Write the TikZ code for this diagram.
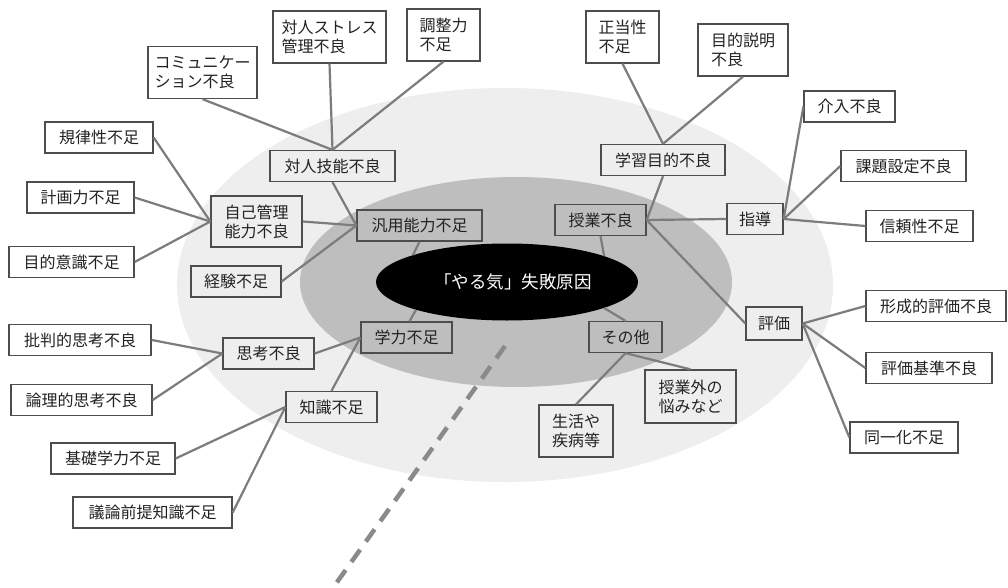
\documentclass[tikz,border=0pt]{standalone}
\usepackage{fontspec}
\setmainfont{Noto Sans CJK JP}
\usetikzlibrary{shapes.geometric}
\definecolor{boxc}{HTML}{4D4D4D}
\definecolor{linec}{HTML}{7C7C7C}
\definecolor{outerc}{HTML}{EEEEEE}
\definecolor{midc}{HTML}{BEBEBE}
\definecolor{txtc}{HTML}{222222}
\definecolor{dashc}{HTML}{8A8A8A}
\begin{document}
\begin{tikzpicture}[x=1pt,y=-1pt,
  box/.style={draw=boxc, line width=1.3pt, align=left, inner sep=2pt,
    text=txtc, font=\fontsize{16}{19}\selectfont, minimum height=31pt},
  tall/.style={box, minimum height=52pt},
  conn/.style={draw=linec, line width=2.2pt},
  dashline/.style={draw=dashc, line width=4.5pt, dash pattern=on 15pt off 10pt}]
\useasboundingbox (0,0) rectangle (1008,588);
\fill[white] (0,0) rectangle (1008,588);
% zones
\fill[outerc] (505,285) ellipse [x radius=328, y radius=197];
\fill[midc] (516,282) ellipse [x radius=216, y radius=105];
% core
\node[ellipse, fill=black, minimum width=262pt, minimum height=77pt, inner sep=0pt,
  text=white, font=\fontsize{17.5}{20}\selectfont] (core) at (507,282) {\hspace*{12pt}「やる気」失敗原因};
% boxes
\node[tall, minimum width=109pt] (komyu) at (202.5,72.5) {コミュニケー\\ション不良};
\node[tall, minimum width=113pt] (stress) at (329.5,37) {対人ストレス\\管理不良};
\node[tall, minimum width=73pt] (chousei) at (443.5,35) {調整力\\不足};
\node[box, minimum width=108pt] (kiritsu) at (99,137.5) {規律性不足};
\node[box, minimum width=125pt] (taijin) at (332.5,166) {対人技能不良};
\node[box, minimum width=107pt] (keikaku) at (80.5,197.5) {計画力不足};
\node[tall, minimum width=91pt, minimum height=51pt] (jiko) at (256.5,221.5) {自己管理\\能力不良};
\node[box, minimum width=125pt] (hanyou) at (419.5,225.5) {汎用能力不足};
\node[box, minimum width=125pt] (mokuteki) at (71.5,262) {目的意識不足};
\node[box, minimum width=90pt] (keiken) at (236,281.5) {経験不足};
\node[tall, minimum width=73pt] (seitou) at (622.5,37) {正当性\\不足};
\node[tall, minimum width=90pt] (setsumei) at (743,50) {目的説明\\不良};
\node[box, minimum width=124pt] (gakushu) at (663,160) {学習目的不良};
\node[box, minimum width=91pt] (kainyuu) at (849.5,106.5) {介入不良};
\node[box, minimum width=125pt] (kadai) at (903.5,166) {課題設定不良};
\node[box, minimum width=91pt] (jugyou) at (600.5,220) {授業不良};
\node[box, minimum width=56pt] (shidou) at (755,219) {指導};
\node[box, minimum width=107pt] (shinrai) at (919.5,226) {信頼性不足};
\node[box, minimum width=56pt, minimum height=33pt] (hyouka) at (774,323.5) {評価};
\node[box, minimum width=140pt] (keisei) at (936,306) {形成的評価不良};
\node[box, minimum width=126pt] (kijun) at (929,368) {評価基準不良};
\node[box, minimum width=108pt] (douitsu) at (904,437.5) {同一化不足};
\node[box, minimum width=73pt] (sonota) at (625.5,337) {その他};
\node[tall, minimum width=91pt, minimum height=53pt] (gaino) at (690.5,396.5) {授業外の\\悩みなど};
\node[tall, minimum width=74pt] (seikatsu) at (576,431) {生活や\\疾病等};
\node[box, minimum width=142pt] (hihan) at (80,340) {批判的思考不良};
\node[box, minimum width=91pt] (shikou) at (268.5,353.5) {思考不良};
\node[box, minimum width=141pt] (ronri) at (81.5,400) {論理的思考不良};
\node[box, minimum width=91pt] (gakuryoku) at (406.5,337.5) {学力不足};
\node[box, minimum width=91pt] (chishiki) at (331.5,407) {知識不足};
\node[box, minimum width=124pt] (kiso) at (113,458.5) {基礎学力不足};
\node[box, minimum width=159pt] (giron) at (152.5,512.5) {議論前提知識不足};
% connectors
\path[conn] (komyu.south) -- (taijin.north);
\path[conn] (stress.south) -- (taijin.north);
\path[conn] (chousei.south) -- (taijin.north);
\path[conn] (taijin.south) -- (hanyou.west);
\path[conn] (kiritsu.east) -- (jiko.west);
\path[conn] (keikaku.east) -- (jiko.west);
\path[conn] (mokuteki.east) -- (jiko.west);
\path[conn] (jiko.east) -- (hanyou.west);
\path[conn] (keiken.east) -- (hanyou.west);
\path[conn] (hanyou.south) -- (core.164);
\path[conn] (seitou.south) -- (gakushu.north);
\path[conn] (setsumei.south) -- (gakushu.north);
\path[conn] (gakushu.south) -- (jugyou.east);
\path[conn] (jugyou.east) -- (shidou.west);
\path[conn] (shidou.east) -- (kainyuu.west);
\path[conn] (shidou.east) -- (kadai.west);
\path[conn] (shidou.east) -- (shinrai.west);
\path[conn] (jugyou.east) -- (hyouka.west);
\path[conn] (hyouka.east) -- (keisei.west);
\path[conn] (hyouka.east) -- (kijun.west);
\path[conn] (hyouka.east) -- (douitsu.west);
\path[conn] (jugyou.south) -- (core.15);
\path[conn] (sonota.north) -- (core.345);
\path[conn] (sonota.south) -- (gaino.north);
\path[conn] (sonota.south) -- (seikatsu.north);
\path[conn] ([xshift=3pt]gakuryoku.north) -- (core.197);
\path[conn] (hihan.east) -- (shikou.west);
\path[conn] (ronri.east) -- (shikou.west);
\path[conn] (shikou.east) -- (gakuryoku.west);
\path[conn] (chishiki.north) -- (gakuryoku.west);
\path[conn] (chishiki.west) -- (kiso.east);
\path[conn] (chishiki.west) -- (giron.east);
% dashed line
\coordinate (dashA) at (505,346);
\coordinate (dashB) at (330,592);
\path[dashline] (dashA) -- (dashB);
\end{tikzpicture}
\end{document}
